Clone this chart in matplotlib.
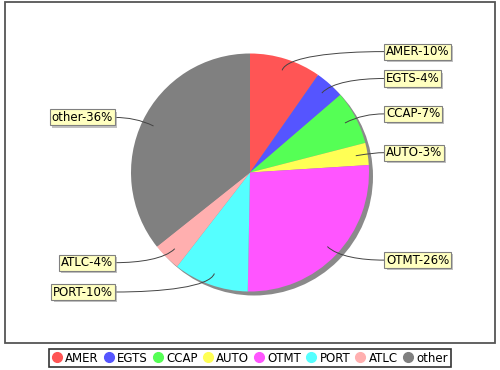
import numpy as np
import matplotlib
matplotlib.use("Agg")
import matplotlib.pyplot as plt
import matplotlib.patheffects as pe
from matplotlib.patches import Rectangle, Circle, PathPatch
from matplotlib.lines import Line2D
from matplotlib.path import Path

# slice shares (percent)
categories = ["AMER", "EGTS", "CCAP", "AUTO", "OTMT", "PORT", "ATLC", "other"]
shares = [9.7, 4.0, 7.3, 3.0, 26.3, 10.2, 3.8, 35.7]
colors = ["#FF5555", "#5555FF", "#55FF55", "#FFFF55",
          "#FF55FF", "#55FFFF", "#FFAFAF", "#808080"]

W, H = 500, 370
fig = plt.figure(figsize=(5, 3.7), dpi=100)
ax = fig.add_axes([0, 0, 1, 1])

# pie geometry in pixel units (y measured from bottom)
cx, cy, r = 250, H - 172.5, 119

# outer plot frame
ax.add_patch(Rectangle((5, H - 343), 490, 341, fill=False,
                       edgecolor="#555555", lw=1.3, zorder=0))

# shadow under the pie
ax.add_patch(Circle((cx + 4, cy - 4), r, color="#8a8a8a", lw=0, zorder=1))

wedges, _ = ax.pie(shares, colors=colors, startangle=90, counterclock=False,
                   center=(cx, cy), radius=r, frame=True,
                   wedgeprops=dict(linewidth=0, zorder=2))

## labels with curved link lines
for w, cat, val in zip(wedges, categories, shares):
    mid = np.deg2rad((w.theta1 + w.theta2) / 2)
    c, s = np.cos(mid), np.sin(mid)
    ax0, ay0 = cx + 0.9 * r * c, cy + 0.9 * r * s
    ex, ey = cx + 1.02 * r * c, cy + 1.02 * r * s
    ly = cy + 1.065 * r * s
    if c >= 0:
        lx = 384
        ha = "left"
        tx = lx + 2
    else:
        lx = 115
        ha = "right"
        tx = lx - 2
    p2x = lx - 0.5 * (lx - ex)
    path = Path([(ax0, ay0), (ex, ey), (p2x, ly), (lx, ly)],
                [Path.MOVETO, Path.CURVE4, Path.CURVE4, Path.CURVE4])
    ax.add_patch(PathPatch(path, fill=False, edgecolor="#444444", lw=0.7, zorder=3))
    t = ax.text(tx, ly, f"{cat}-{round(val):.0f}%", ha=ha, va="center",
                fontsize=8.5, zorder=4,
                bbox=dict(boxstyle="square,pad=0.13", fc="#FFFFC0",
                          ec="#808080", lw=0.8))
    t.get_bbox_patch().set_path_effects(
        [pe.SimplePatchShadow(offset=(1.5, -1.5), shadow_rgbFace="#999999", alpha=0.6),
         pe.Normal()])

ax.set_xlim(0, W)
ax.set_ylim(0, H)
ax.axis("off")

## legend below the frame
handles = [Line2D([], [], marker="o", linestyle="", markersize=7,
                  markerfacecolor=col, markeredgecolor=col) for col in colors]
leg = fig.legend(handles, categories, loc="center",
                 bbox_to_anchor=(0.5, (H - 358) / H), ncol=8, frameon=True,
                 fontsize=8.5, handlelength=0.8, handletextpad=0.3,
                 columnspacing=0.45, borderpad=0.25, fancybox=False,
                 edgecolor="black")
leg.get_frame().set_linewidth(1.2)

fig.savefig("out.png", dpi=100)
